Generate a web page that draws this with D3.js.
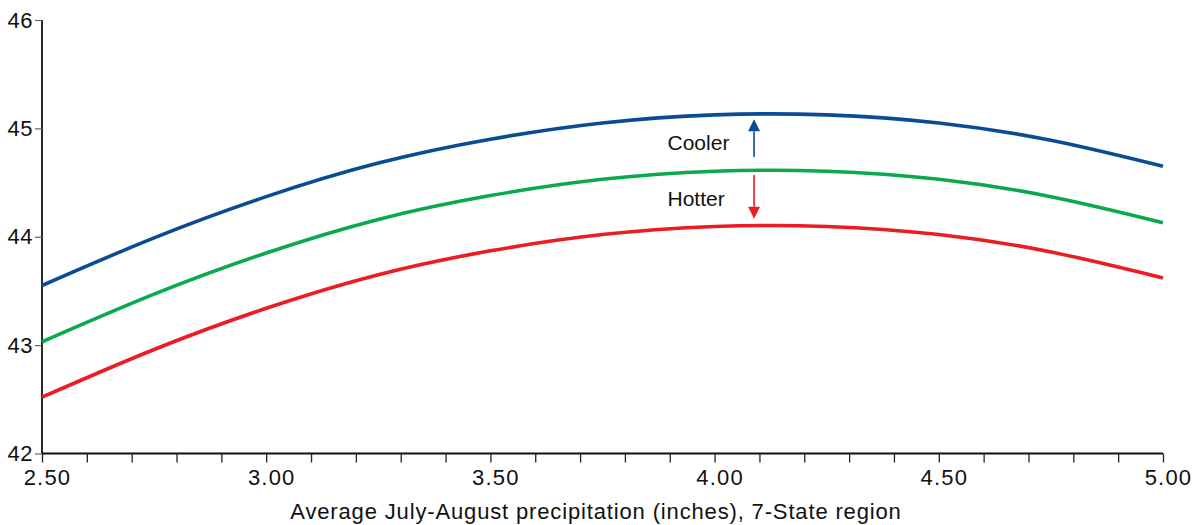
<!DOCTYPE html>
<html>
<head>
<meta charset="utf-8">
<script src="https://cdn.jsdelivr.net/npm/d3@7"></script>
<style>
  html, body { margin: 0; padding: 0; background: #fff; }
  svg { display: block; font-family: "Liberation Sans", Arial, Helvetica, sans-serif; }
</style>
</head>
<body>
<svg id="chart" width="1195" height="525"></svg>
<script>
// ---- Data ----
const precip = [2.50, 2.75, 3.00, 3.25, 3.50, 3.75, 4.00, 4.25, 4.50, 4.75, 5.00];
const coolerSeries = [43.55, 43.99, 44.37, 44.68, 44.90, 45.05, 45.125, 45.125, 45.05, 44.89, 44.65];
const normalSeries = [43.03, 43.47, 43.85, 44.16, 44.38, 44.53, 44.605, 44.605, 44.53, 44.37, 44.13];
const hotterSeries = [42.52, 42.96, 43.34, 43.65, 43.87, 44.02, 44.095, 44.095, 44.02, 43.86, 43.62];
const yTickValues = [42, 43, 44, 45, 46];
const xMajorTicks = [2.5, 3.0, 3.5, 4.0, 4.5, 5.0];
const xMinorTicks = d3.range(25, 51).map(d => d / 10);
const xTitle = "Average July-August precipitation (inches), 7-State region";
const annotations = [
  { text: "Cooler", x: 3.895, y: 44.80 },
  { text: "Hotter", x: 3.895, y: 44.285 }
];
const arrows = [
  { x: 4.088, from: 44.735, to: 45.085, color: "#0a4c93" },
  { x: 4.088, from: 44.57, to: 44.165, color: "#ec1c24" }
];

// ---- Layout ----
const W = 1195, H = 525;
const margin = { top: 20, right: 32, bottom: 71.5, left: 42 };
const svg = d3.select("#chart");

const x = d3.scaleLinear().domain([2.5, 5.0]).range([margin.left, W - margin.right]);
const y = d3.scaleLinear().domain([42, 46]).range([H - margin.bottom, margin.top]);

// Y axis
const yAxis = d3.axisLeft(y).tickValues(yTickValues).tickSize(7).tickPadding(2).tickFormat(d3.format("d"));
const gy = svg.append("g").attr("transform", `translate(${margin.left},0)`).call(yAxis);
gy.select(".domain").attr("stroke", "#2a2a2a").attr("stroke-width", 2).attr("d", `M0,${y(46)}V${y(42)}`);
gy.selectAll(".tick line").attr("stroke", "#666").attr("stroke-width", 1.2);
gy.selectAll(".tick text").attr("font-size", 22).attr("letter-spacing", 0.5).attr("fill", "#111")
  .attr("font-family", "Liberation Sans, Arial, sans-serif");

// X axis (minor ticks all same length, labels on majors)
const xAxis = d3.axisBottom(x).tickValues(xMinorTicks).tickSize(9).tickPadding(7)
  .tickFormat(d => xMajorTicks.some(m => Math.abs(m - d) < 1e-6) ? d3.format(".2f")(d) : "");
const gx = svg.append("g").attr("transform", `translate(0,${y(42)})`).call(xAxis);
gx.select(".domain").attr("stroke", "#111").attr("stroke-width", 2.2).attr("d", `M${x(2.5)},0H${x(5.0)}`);
gx.selectAll(".tick line").attr("stroke", "#222").attr("stroke-width", 1.3);
gx.selectAll(".tick text").attr("font-size", 22).attr("letter-spacing", 1.2).attr("dx", 5).attr("fill", "#111")
  .attr("font-family", "Liberation Sans, Arial, sans-serif");

// X title
svg.append("text")
  .attr("x", 596)
  .attr("y", 519)
  .attr("text-anchor", "middle")
  .attr("font-size", 22)
  .attr("letter-spacing", 0.85)
  .attr("fill", "#111")
  .text(xTitle);

// Lines
const line = d3.line().x((d, i) => x(precip[i])).y(d => y(d)).curve(d3.curveNatural);
const series = [
  { values: coolerSeries, color: "#0a4c93" },
  { values: normalSeries, color: "#0aa84f" },
  { values: hotterSeries, color: "#ec1c24" }
];
svg.selectAll("path.series").data(series).enter().append("path")
  .attr("class", "series")
  .attr("fill", "none")
  .attr("stroke", d => d.color)
  .attr("stroke-width", 3.6)
  .attr("stroke-linecap", "butt")
  .attr("d", d => line(d.values));

// Annotations
svg.selectAll("text.ann").data(annotations).enter().append("text")
  .attr("class", "ann")
  .attr("x", d => x(d.x))
  .attr("y", d => y(d.y))
  .attr("font-size", 21)
  .attr("fill", "#111")
  .text(d => d.text);

arrows.forEach(a => {
  const px = x(a.x), y0 = y(a.from), y1 = y(a.to);
  const dir = y1 < y0 ? -1 : 1;
  const headLen = 12, headHalf = 6;
  svg.append("line")
    .attr("x1", px).attr("x2", px)
    .attr("y1", y0).attr("y2", y1 - dir * headLen)
    .attr("stroke", a.color).attr("stroke-width", 1.6);
  svg.append("path")
    .attr("d", `M${px},${y1}L${px - headHalf},${y1 - dir * headLen}L${px + headHalf},${y1 - dir * headLen}Z`)
    .attr("fill", a.color);
});
</script>
</body>
</html>
